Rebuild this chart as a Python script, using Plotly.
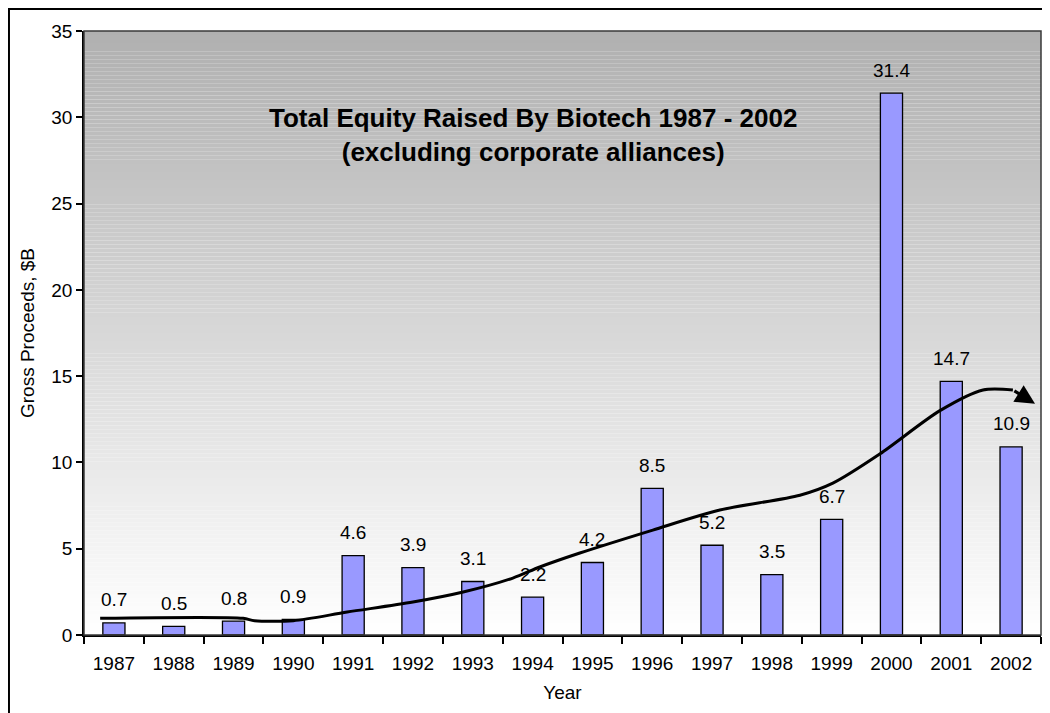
import plotly.graph_objects as go

years = [1987, 1988, 1989, 1990, 1991, 1992, 1993, 1994, 1995, 1996, 1997, 1998, 1999, 2000, 2001, 2002]
proceeds = [0.7, 0.5, 0.8, 0.9, 4.6, 3.9, 3.1, 2.2, 4.2, 8.5, 5.2, 3.5, 6.7, 31.4, 14.7, 10.9]

# hand-drawn trend line, fractional year positions
trend_x = [1986.77, 1989.16, 1989.35, 1990.0, 1990.9, 1992.0, 1992.84, 1993.67, 1994.12, 1994.79,
           1996.01, 1997.13, 1998.47, 1999.02, 1999.81, 2000.81, 2001.53, 2002.03, 2002.40]
trend_y = [0.97, 0.97, 0.83, 0.83, 1.33, 1.91, 2.49, 3.3, 3.94, 4.75,
           6.08, 7.24, 8.1, 8.8, 10.5, 13.0, 14.2, 14.2, 13.4]

title_lines = ["Total Equity Raised By Biotech 1987 - 2002", "(excluding corporate alliances)"]
y_title = "Gross Proceeds, $B"
x_title = "Year"

FONT = "Liberation Sans, Arial, sans-serif"

fig = go.Figure()

fig.add_trace(go.Bar(
    x=years, y=proceeds, width=0.37,
    marker=dict(color="#9999FF", line=dict(color="black", width=1.3)),
    showlegend=False, hoverinfo="skip",
))

fig.add_trace(go.Scatter(
    x=trend_x[:-1], y=trend_y[:-1], mode="lines",
    line=dict(color="black", width=3, shape="spline", smoothing=0.8),
    showlegend=False, hoverinfo="skip",
))

# gradient background of plot area
shapes = []
N = 150
top_c, bot_c = 176, 255
for i in range(N):
    f0 = i / N
    f1 = (i + 1) / N
    c = round(bot_c + (top_c - bot_c) * (f0 + f1) / 2)
    shapes.append(dict(type="rect", xref="paper", yref="paper", x0=0, x1=1, y0=f0, y1=f1,
                       fillcolor=f"rgb({c},{c},{c})", line=dict(width=0), layer="below"))
# plot area frame
shapes.append(dict(type="rect", xref="paper", yref="paper", x0=0, x1=1, y0=0, y1=1,
                   line=dict(color="#3a3a3a", width=1.5), layer="above"))
# outer chart border
shapes.append(dict(type="rect", xref="paper", yref="paper", x0=-0.0784, x1=1.2, y0=-0.4, y1=1.0364,
                   line=dict(color="black", width=2), layer="above"))

annotations = [
    dict(text="<b>" + title_lines[0] + "</b><br><b>" + title_lines[1] + "</b>",
         xref="paper", yref="paper", x=0.469, y=0.828, xanchor="center", yanchor="middle",
         showarrow=False, font=dict(size=26, color="black", family=FONT), align="center"),
    dict(x=trend_x[-1], y=trend_y[-1], ax=trend_x[-2], ay=trend_y[-2],
         xref="x", yref="y", axref="x", ayref="y", text="", showarrow=True,
         arrowhead=2, arrowsize=1.3, arrowwidth=3, arrowcolor="black", standoff=0),
]
# value labels above bars
for yr, v in zip(years, proceeds):
    annotations.append(dict(x=yr, y=v, xref="x", yref="y", text=f"{v:.1f}", showarrow=False,
                            xanchor="center", yanchor="middle", yshift=23,
                            font=dict(size=19, color="black", family=FONT)))

fig.update_layout(
    width=1050, height=713,
    margin=dict(l=76, r=17, t=23, b=86),
    paper_bgcolor="white", plot_bgcolor="white",
    font=dict(family=FONT, size=19, color="black"),
    shapes=shapes, annotations=annotations,
)

fig.update_xaxes(
    range=[1986.5, 2002.5], tickmode="array", tickvals=years, ticktext=[str(y) for y in years],
    ticks="", showgrid=False, zeroline=False,
    showline=True, linecolor="black", linewidth=1.5,
    minor=dict(tickmode="array", tickvals=[y - 0.5 for y in years] + [years[-1] + 0.5],
               ticks="outside", ticklen=7, tickcolor="black", tickwidth=1.5, showgrid=False),
    tickfont=dict(size=19), ticklabelstandoff=10,
    title=dict(text=x_title, font=dict(size=19), standoff=13),
)
fig.update_yaxes(
    range=[0, 35], dtick=5, ticks="outside", ticklen=6, tickcolor="black", tickwidth=1.5,
    showgrid=False, zeroline=False, showline=True, linecolor="black", linewidth=1.5,
    tickfont=dict(size=19),
    title=dict(text=y_title, font=dict(size=19), standoff=12),
)

fig.write_html("out.html")
